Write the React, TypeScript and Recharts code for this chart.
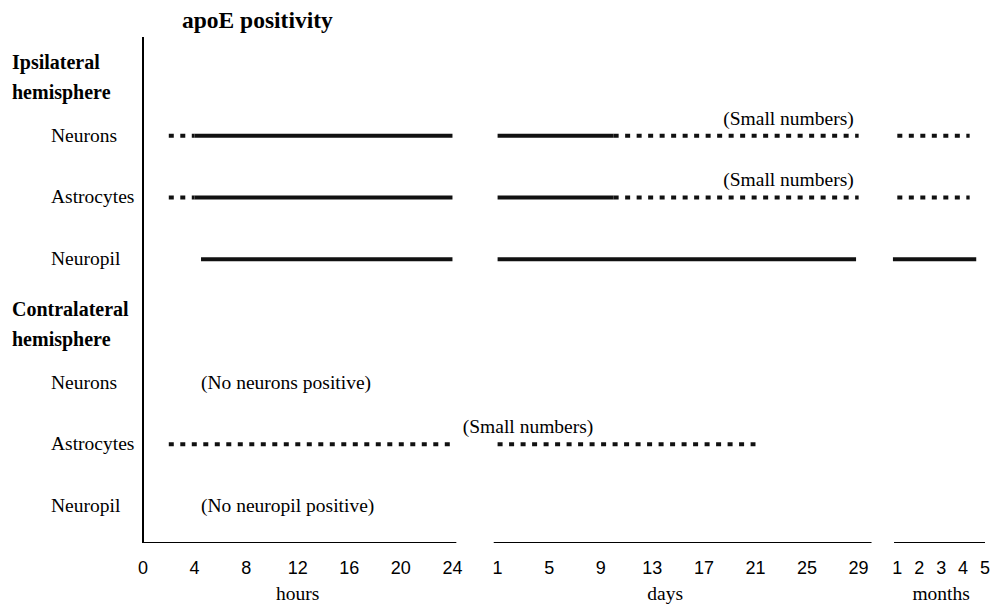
import { ComposedChart, Line, Scatter, XAxis, YAxis } from "recharts";

type Unit = "hours" | "days" | "months";
type Seg = { unit: Unit; from: number; to: number; dotted: boolean };

const hourTicks = [0, 4, 8, 12, 16, 20, 24];
const dayTicks = [1, 5, 9, 13, 17, 21, 25, 29];
const monthTicks = [1, 2, 3, 4, 5];

const rowLabels = [
  "Ipsilateral hemisphere",
  "Neurons",
  "Astrocytes",
  "Neuropil",
  "Contralateral hemisphere",
  "Neurons",
  "Astrocytes",
  "Neuropil",
];
const headerRows = [0, 4];

const ipsiNeurons: Seg[] = [
  { unit: "hours", from: 2, to: 4, dotted: true },
  { unit: "hours", from: 4, to: 24, dotted: false },
  { unit: "days", from: 1, to: 10, dotted: false },
  { unit: "days", from: 10, to: 29, dotted: true },
  { unit: "months", from: 1, to: 4.3, dotted: true },
];
const ipsiAstrocytes: Seg[] = [
  { unit: "hours", from: 2, to: 4, dotted: true },
  { unit: "hours", from: 4, to: 24, dotted: false },
  { unit: "days", from: 1, to: 10, dotted: false },
  { unit: "days", from: 10, to: 29, dotted: true },
  { unit: "months", from: 1, to: 4.3, dotted: true },
];
const ipsiNeuropil: Seg[] = [
  { unit: "hours", from: 4.5, to: 24, dotted: false },
  { unit: "days", from: 1, to: 28.8, dotted: false },
  { unit: "months", from: 0.8, to: 4.6, dotted: false },
];
const contraAstrocytes: Seg[] = [
  { unit: "hours", from: 2, to: 24, dotted: true },
  { unit: "days", from: 1, to: 21, dotted: true },
];

const tracks = [
  { row: 1, segs: ipsiNeurons },
  { row: 2, segs: ipsiAstrocytes },
  { row: 3, segs: ipsiNeuropil },
  { row: 6, segs: contraAstrocytes },
];

// notes sitting on a row with a line go above it, others sit on the row
const notes = [
  { row: 1, unit: "days" as Unit, at: 18.5, text: "(Small numbers)" },
  { row: 2, unit: "days" as Unit, at: 18.5, text: "(Small numbers)" },
  { row: 5, unit: "hours" as Unit, at: 4.5, text: "(No neurons positive)" },
  { row: 6, unit: "hours" as Unit, at: 24.8, text: "(Small numbers)" },
  { row: 7, unit: "hours" as Unit, at: 4.5, text: "(No neuropil positive)" },
];

const unitLabels = [
  { unit: "hours" as Unit, at: 12 },
  { unit: "days" as Unit, at: 14 },
  { unit: "months" as Unit, at: 3 },
];

// broken x axis: each block gets its own start and stretch on one shared scale
const blockStart = { hours: 0, days: 27.5, months: 58.5 };
const blockFirst = { hours: 0, days: 1, months: 1 };
const blockStretch = { hours: 1, days: 1, months: 1.7 };
const blockSpan = [
  { unit: "hours" as Unit, from: 0, to: 24.3 },
  { unit: "days" as Unit, from: 0.7, to: 30 },
  { unit: "months" as Unit, from: 0.85, to: 5.15 },
];

const toAxis = (unit: Unit, v: number) =>
  blockStart[unit] + (v - blockFirst[unit]) * blockStretch[unit];

const X_DOMAIN: [number, number] = [0, toAxis("months", 5)];
const Y_DOMAIN: [number, number] = [-0.6, 7.6];

const xTicks = [
  ...hourTicks.map((v) => ({ x: toAxis("hours", v), label: String(v) })),
  ...dayTicks.map((v) => ({ x: toAxis("days", v), label: String(v) })),
  ...monthTicks.map((v) => ({ x: toAxis("months", v), label: String(v) })),
];
const unitTicks = unitLabels.map((u) => ({ x: toAxis(u.unit, u.at), label: u.unit }));

const SERIF = "Liberation Serif, Tinos, Times New Roman, Times, DejaVu Serif, serif";
const SANS = "Liberation Sans, Arial, sans-serif";
const TEXT = 19.5;

const findLabel = (list: { x: number; label: string }[], v: number) =>
  list.find((t) => Math.abs(t.x - v) < 1e-6)?.label ?? "";

const TimeTick = (props: any) => (
  <text x={props.x} y={props.y + 31} textAnchor="middle" style={{ fontFamily: SANS, fontSize: 18 }} fill="#000">
    {findLabel(xTicks, props.payload.value)}
  </text>
);

const UnitTick = (props: any) => (
  <text x={props.x} y={props.y + 27} textAnchor="middle" style={{ fontFamily: SERIF, fontSize: TEXT }} fill="#000">
    {findLabel(unitTicks, props.payload.value)}
  </text>
);

const RowTick = (props: any) => {
  const i = props.payload.value as number;
  const label = rowLabels[i];
  if (headerRows.includes(i)) {
    const [first, second] = label.split(" ");
    return (
      <text style={{ fontFamily: SERIF, fontSize: 20, fontWeight: "bold" }} fill="#000">
        <tspan x={12} y={props.y - 5}>{first}</tspan>
        <tspan x={12} y={props.y + 25}>{second}</tspan>
      </text>
    );
  }
  return (
    <text x={51} y={props.y + 6} style={{ fontFamily: SERIF, fontSize: TEXT }} fill="#000">
      {label}
    </text>
  );
};

const linedRows = tracks.map((t) => t.row);

const NoteShape = (props: any) => {
  const p = props.payload;
  const dy = linedRows.includes(p.y) ? -11 : 6;
  return (
    <text x={props.cx} y={props.cy + dy} style={{ fontFamily: SERIF, fontSize: TEXT }} fill="#000">
      {p.text}
    </text>
  );
};

const notePoints = notes.map((n) => ({ x: toAxis(n.unit, n.at), y: n.row, text: n.text }));
// anchors for the unit axis so it gets data and draws its ticks
const unitAnchors = unitTicks.map((t) => ({ x: t.x, y: 7 }));

export default function App() {
  return (
    <div style={{ position: "absolute", left: 0, top: 0, width: 1005, height: 606, background: "#fff" }}>
      <div
        style={{
          position: "absolute",
          left: 182,
          top: 9,
          fontFamily: SERIF,
          fontWeight: "bold",
          fontSize: 23.5,
          lineHeight: "23px",
          whiteSpace: "nowrap",
        }}
      >
        apoE positivity
      </div>
      <ComposedChart width={1005} height={606} margin={{ top: 37, right: 20, bottom: 0, left: 0 }}>
        <XAxis
          xAxisId="t"
          type="number"
          dataKey="x"
          domain={X_DOMAIN}
          ticks={xTicks.map((t) => t.x)}
          allowDataOverflow
          interval={0}
          axisLine={false}
          tickLine={false}
          tickSize={0}
          tickMargin={0}
          height={30}
          tick={<TimeTick />}
        />
        <XAxis
          xAxisId="unit"
          type="number"
          dataKey="x"
          domain={X_DOMAIN}
          ticks={unitTicks.map((t) => t.x)}
          allowDataOverflow
          interval={0}
          axisLine={false}
          tickLine={false}
          tickSize={0}
          tickMargin={0}
          height={33}
          tick={<UnitTick />}
        />
        <YAxis
          type="number"
          dataKey="y"
          domain={Y_DOMAIN}
          reversed
          ticks={[0, 1, 2, 3, 4, 5, 6, 7]}
          interval={0}
          allowDataOverflow
          width={143}
          tickLine={false}
          axisLine={{ stroke: "#000", strokeWidth: 2 }}
          tick={<RowTick />}
        />
        {blockSpan.map((s, i) => (
          <Line
            key={"axis" + i}
            xAxisId="t"
            data={[
              { x: toAxis(s.unit, s.from), y: Y_DOMAIN[1] },
              { x: toAxis(s.unit, s.to), y: Y_DOMAIN[1] },
            ]}
            dataKey="y"
            stroke="#000"
            strokeWidth={2}
            dot={false}
            activeDot={false}
            isAnimationActive={false}
          />
        ))}
        {tracks.flatMap((t) =>
          t.segs.map((s, i) => (
            <Line
              key={t.row + "-" + i}
              xAxisId="t"
              data={[
                { x: toAxis(s.unit, s.from), y: t.row },
                { x: toAxis(s.unit, s.to), y: t.row },
              ]}
              dataKey="y"
              stroke="#111"
              strokeWidth={4}
              strokeDasharray={s.dotted ? "5 6.5" : undefined}
              dot={false}
              activeDot={false}
              isAnimationActive={false}
            />
          ))
        )}
        <Scatter xAxisId="t" data={notePoints} dataKey="y" shape={<NoteShape />} isAnimationActive={false} />
        <Scatter xAxisId="unit" data={unitAnchors} dataKey="y" shape={() => <g />} isAnimationActive={false} />
      </ComposedChart>
    </div>
  );
}
